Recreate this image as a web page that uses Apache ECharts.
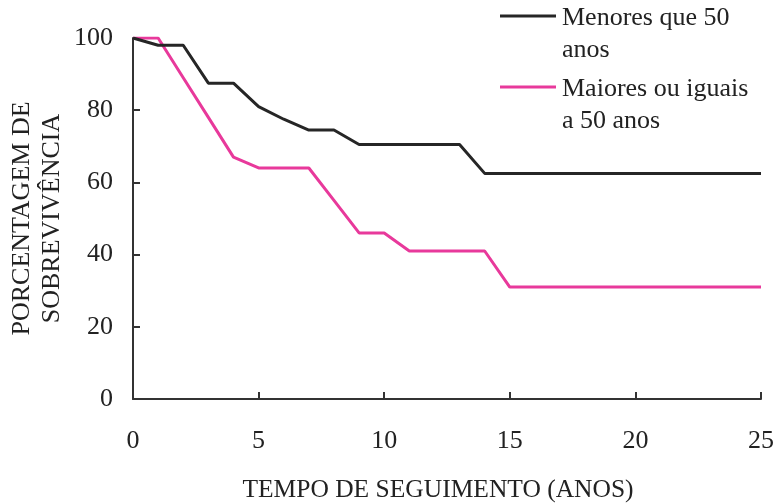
<!DOCTYPE html>
<html>
<head>
<meta charset="utf-8">
<script src="https://cdn.jsdelivr.net/npm/echarts@6/dist/echarts.min.js"></script>
<style>
  html, body { margin: 0; padding: 0; background: #fff; }
  #chart { width: 777px; height: 503px; }
</style>
</head>
<body>
<div id="chart"></div>
<script>
// Survival percentage over follow-up time, by age group
const menoresAnos = [0, 1, 2, 3, 4, 5, 6, 7, 8, 9, 13, 14, 25];
const menoresPct  = [100, 98, 98, 87.5, 87.5, 81, 77.5, 74.5, 74.5, 70.5, 70.5, 62.5, 62.5];

const maioresAnos = [0, 1, 2, 3, 4, 5, 7, 8, 9, 10, 11, 14, 15, 25];
const maioresPct  = [100, 100, 89, 78, 67, 64, 64, 55, 46, 46, 41, 41, 31, 31];

const nomeMenores = 'Menores que 50\nanos';
const nomeMaiores = 'Maiores ou iguais\na 50 anos';

const corMenores = '#262626';
const corMaiores = '#e8399b';
const fonte = '"Liberation Serif", "DejaVu Serif", serif';
const corTexto = '#222';

const pares = (xs, ys) => xs.map((x, i) => [x, ys[i]]);

const chart = echarts.init(document.getElementById('chart'), null, { renderer: 'canvas' });

chart.setOption({
  animation: false,
  backgroundColor: '#fff',
  grid: { left: 133, right: 16, top: 38, bottom: 104, containLabel: false, outerBoundsMode: 'none' },
  xAxis: {
    type: 'value',
    min: 0, max: 25, interval: 5,
    name: 'TEMPO DE SEGUIMENTO (ANOS)',
    nameLocation: 'middle',
    nameGap: 78,
    nameMoveOverlap: false,
    nameTextStyle: { fontFamily: fonte, fontSize: 25.5, color: corTexto, padding: [0, 18, 0, 0] },
    axisLine: { show: true, lineStyle: { color: '#333', width: 2 } },
    axisTick: { show: true, inside: true, length: 7, lineStyle: { color: '#333', width: 2 } },
    axisLabel: { fontFamily: fonte, fontSize: 26, color: corTexto, margin: 29 },
    splitLine: { show: false }
  },
  yAxis: {
    type: 'value',
    min: 0, max: 100, interval: 20,
    name: 'PORCENTAGEM DE\nSOBREVIVÊNCIA',
    nameLocation: 'middle',
    nameRotate: 90,
    nameGap: 66,
    nameMoveOverlap: false,
    nameTextStyle: { fontFamily: fonte, fontSize: 26, color: corTexto, lineHeight: 30 },
    axisLine: { show: true, lineStyle: { color: '#333', width: 2 } },
    axisTick: { show: true, inside: true, length: 7, lineStyle: { color: '#333', width: 2 } },
    axisLabel: { fontFamily: fonte, fontSize: 26, color: corTexto, margin: 20 },
    splitLine: { show: false }
  },
  series: [
    {
      name: nomeMenores,
      type: 'line',
      data: pares(menoresAnos, menoresPct),
      showSymbol: false,
      lineStyle: { color: corMenores, width: 3 },
      itemStyle: { color: corMenores },
      z: 3
    },
    {
      name: nomeMaiores,
      type: 'line',
      data: pares(maioresAnos, maioresPct),
      showSymbol: false,
      lineStyle: { color: corMaiores, width: 3 },
      itemStyle: { color: corMaiores },
      z: 2
    }
  ],
  graphic: [
    { type: 'line', shape: { x1: 500, y1: 16, x2: 556, y2: 16 }, style: { stroke: corMenores, lineWidth: 3 } },
    { type: 'text', left: 562, top: 2,
      style: { text: nomeMenores, font: '26px ' + fonte, fill: corTexto, lineHeight: 32 } },
    { type: 'line', shape: { x1: 500, y1: 87, x2: 556, y2: 87 }, style: { stroke: corMaiores, lineWidth: 3 } },
    { type: 'text', left: 562, top: 73,
      style: { text: nomeMaiores, font: '26px ' + fonte, fill: corTexto, lineHeight: 32 } }
  ]
});
</script>
</body>
</html>
